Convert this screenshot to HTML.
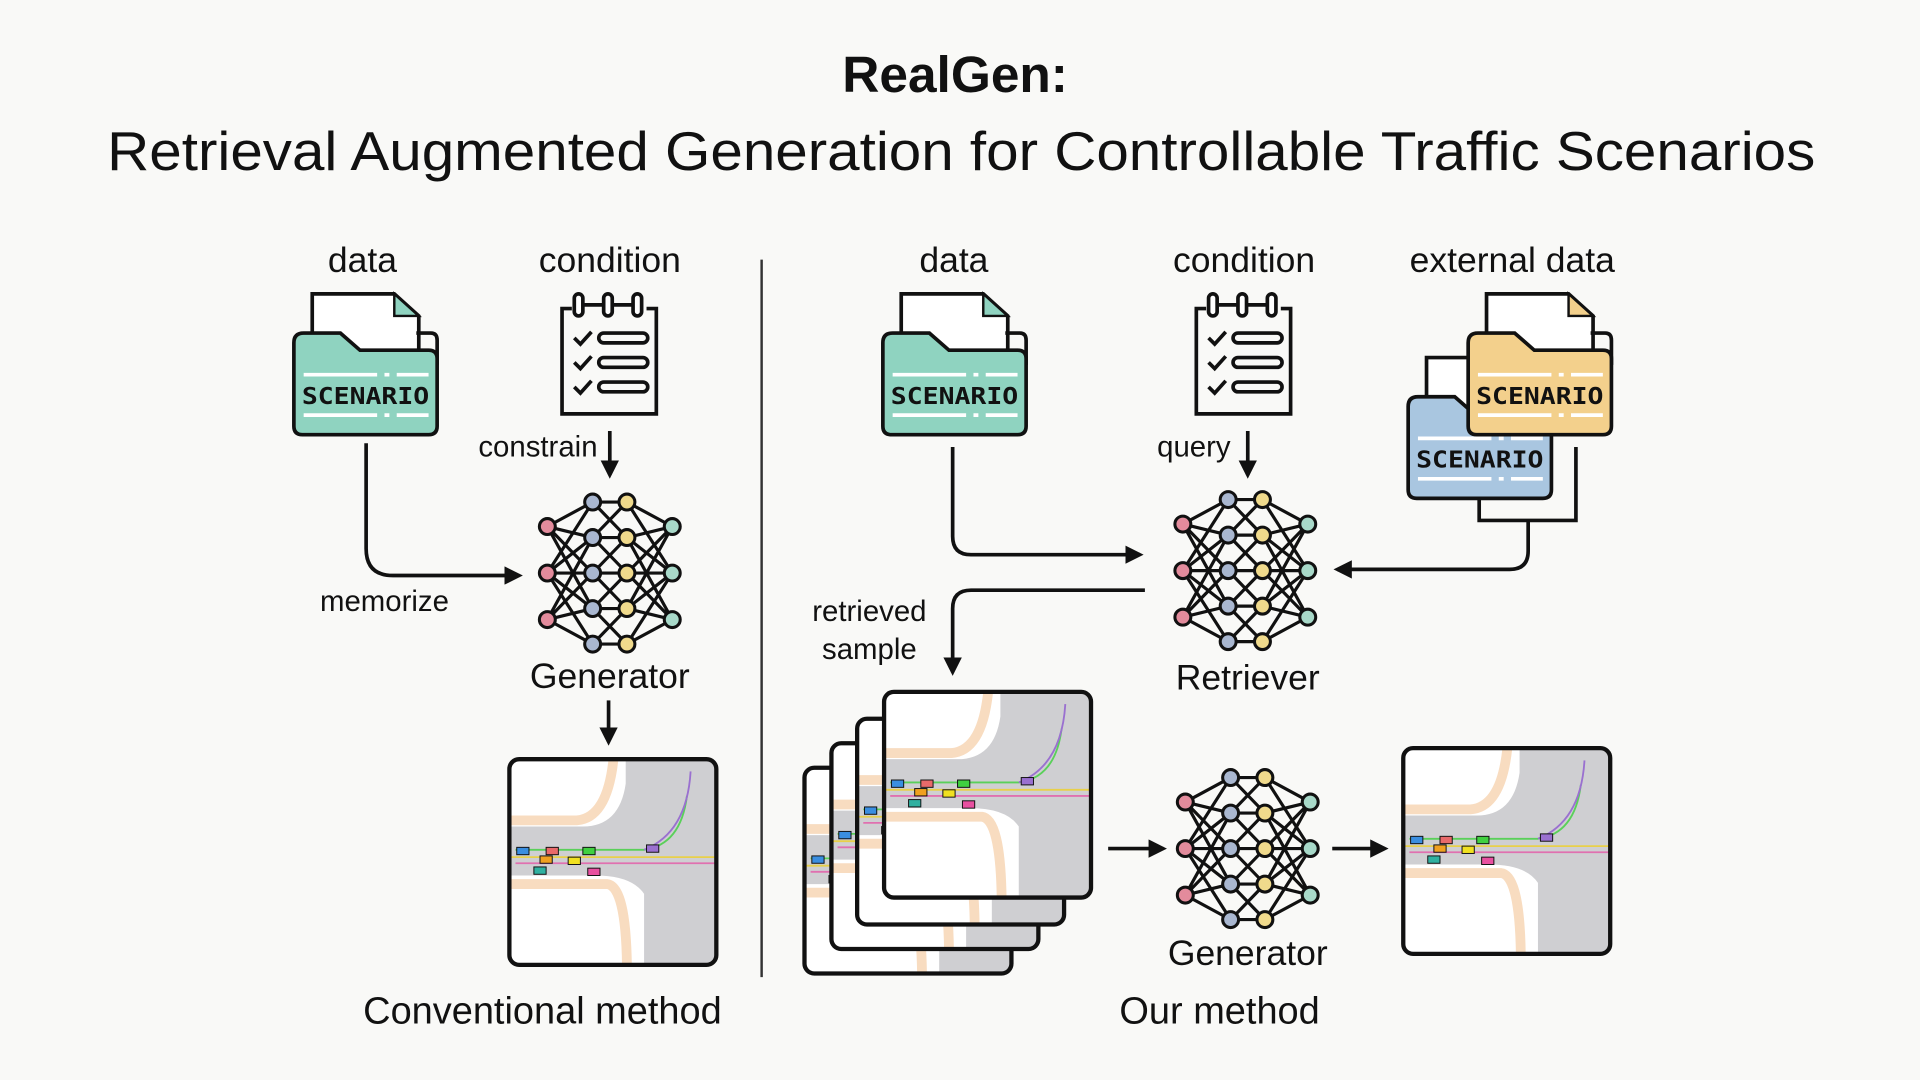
<!DOCTYPE html>
<html><head><meta charset="utf-8"><style>
html,body{margin:0;padding:0;background:#f9f9f7;}
svg{display:block}
text{font-family:"Liberation Sans",sans-serif;fill:#111}
.sc{font-family:"DejaVu Sans Mono","Liberation Mono",monospace;font-weight:bold;font-size:19px;fill:#111}
</style></head><body>
<svg width="1920" height="1080" viewBox="0 0 1568 882" xmlns="http://www.w3.org/2000/svg">
<defs>
<marker id="ah" viewBox="0 0 10 10" refX="8" refY="5" markerWidth="5" markerHeight="5" orient="auto"><path d="M0 0L10 5L0 10Z" fill="#111"/></marker>
<g id="folder">
  <path d="M15 50V2H82L102 20V50" fill="#fff" stroke="#111" stroke-width="3"/>
  <path d="M82 2V20H102Z" fill="CUR" stroke="#111" stroke-width="2"/>
  <path d="M100 34H112Q117 34 117 40V60" fill="none" stroke="#111" stroke-width="3"/>
  <path d="M0 42Q0 34 8 34H38L54 48H110Q117 48 117 55V110Q117 117 110 117H7Q0 117 0 110Z" fill="inherit" stroke="#111" stroke-width="3"/>
  <path d="M8 68H110M8 101H110" stroke="#fff" stroke-width="3" stroke-dasharray="60 6 4 6"/>
  <text class="sc" x="58.5" y="92" text-anchor="middle" textLength="104" lengthAdjust="spacingAndGlyphs">SCENARIO</text>
</g>
<g id="note" fill="none" stroke="#111" stroke-width="3">
  <path d="M12 14H4V100H81V14H73"/>
  <rect x="14" y="2" width="7" height="18" rx="3.5" fill="#fff"/>
  <rect x="38" y="2" width="7" height="18" rx="3.5" fill="#fff"/>
  <rect x="62" y="2" width="7" height="18" rx="3.5" fill="#fff"/>
  <path d="M21 11H38M45 11H62"/>
  <path d="M14 38l5 5 9-10M14 58l5 5 9-10M14 78l5 5 9-10"/>
  <rect x="34" y="34" width="40" height="8" rx="4"/>
  <rect x="34" y="54" width="40" height="8" rx="4"/>
  <rect x="34" y="74" width="40" height="8" rx="4"/>
</g>
<g id="net">
  <g stroke="#111" stroke-width="2.6">
    <path d="M-51-38L-14-58M-51-38L-14-29M-51-38L-14 0M-51-38L-14 29M-51 0L-14-58M-51 0L-14-29M-51 0L-14 0M-51 0L-14 29M-51 0L-14 58M-51 38L-14-29M-51 38L-14 0M-51 38L-14 29M-51 38L-14 58"/>
    <path d="M51-38L14-58M51-38L14-29M51-38L14 0M51-38L14 29M51 0L14-58M51 0L14-29M51 0L14 0M51 0L14 29M51 0L14 58M51 38L14-29M51 38L14 0M51 38L14 29M51 38L14 58"/>
    <path d="M-14-58L14-58M-14-58L14-29M-14-29L14-58M-14-29L14-29M-14-29L14 0M-14 0L14-29M-14 0L14 0M-14 0L14 29M-14 29L14 0M-14 29L14 29M-14 29L14 58M-14 58L14 29M-14 58L14 58"/>
  </g>
  <g stroke="#111" stroke-width="2.5">
    <g fill="#e38b9c"><circle cx="-51" cy="-38" r="6.5"/><circle cx="-51" cy="0" r="6.5"/><circle cx="-51" cy="38" r="6.5"/></g>
    <g fill="#a9b7d0"><circle cx="-14" cy="-58" r="6.5"/><circle cx="-14" cy="-29" r="6.5"/><circle cx="-14" cy="0" r="6.5"/><circle cx="-14" cy="29" r="6.5"/><circle cx="-14" cy="58" r="6.5"/></g>
    <g fill="#f0da8c"><circle cx="14" cy="-58" r="6.5"/><circle cx="14" cy="-29" r="6.5"/><circle cx="14" cy="0" r="6.5"/><circle cx="14" cy="29" r="6.5"/><circle cx="14" cy="58" r="6.5"/></g>
    <g fill="#a8d9c9"><circle cx="51" cy="-38" r="6.5"/><circle cx="51" cy="0" r="6.5"/><circle cx="51" cy="38" r="6.5"/></g>
  </g>
</g>
<clipPath id="mc"><rect x="0" y="0" width="169" height="168" rx="8"/></clipPath>
<g id="map">
  <rect x="0" y="0" width="169" height="168" rx="8" fill="#fff"/>
  <g clip-path="url(#mc)">
    <path d="M0 55H60Q90 55 95 20V0H169V168H110V110Q100 95 70 95H0Z" fill="#cfcfd2"/>
    <path d="M0 50H55Q80 48 85 0" fill="none" stroke="#f8dcc0" stroke-width="8"/>
    <path d="M0 102H80Q95 104 96 168" fill="none" stroke="#f8dcc0" stroke-width="8"/>
    <path d="M0 80H169" stroke="#e8d04a" stroke-width="1.5"/>
    <path d="M5 85H169" stroke="#e070b0" stroke-width="1.5"/>
    <path d="M5 74H110Q140 70 145 30" fill="none" stroke="#5ad05a" stroke-width="1.5"/>
    <path d="M110 74Q145 60 148 10" fill="none" stroke="#9a70d0" stroke-width="1.5"/>
    <g stroke="#111" stroke-width="0.8">
      <rect x="6" y="72" width="10" height="6" fill="#3a8ee0"/><rect x="30" y="72" width="10" height="6" fill="#e86a6a"/><rect x="60" y="72" width="10" height="6" fill="#40d040"/>
      <rect x="25" y="79" width="10" height="6" fill="#f0a020"/><rect x="48" y="80" width="10" height="6" fill="#f0e020"/>
      <rect x="20" y="88" width="10" height="6" fill="#30b0a0"/><rect x="64" y="89" width="10" height="6" fill="#e850a0"/>
      <rect x="112" y="70" width="10" height="6" fill="#9a70d0"/>
    </g>
  </g>
  <rect x="0" y="0" width="169" height="168" rx="8" fill="none" stroke="#111" stroke-width="3.5"/>
</g>
</defs>

<text x="780" y="75" text-anchor="middle" font-size="42" font-weight="bold">RealGen:</text>
<text x="785" y="139" text-anchor="middle" font-size="45" textLength="1395" lengthAdjust="spacingAndGlyphs">Retrieval Augmented Generation for Controllable Traffic Scenarios</text>

<line x1="622" y1="212" x2="622" y2="798" stroke="#333" stroke-width="2"/>

<!-- left -->
<g font-size="29">
<text x="296" y="222" text-anchor="middle">data</text>
<text x="498" y="222" text-anchor="middle">condition</text>
<text x="779" y="222" text-anchor="middle">data</text>
<text x="1016" y="222" text-anchor="middle">condition</text>
<text x="1235" y="222" text-anchor="middle">external data</text>
<text x="498" y="562" text-anchor="middle">Generator</text>
<text x="1019" y="563" text-anchor="middle">Retriever</text>
<text x="1019" y="788" text-anchor="middle">Generator</text>
</g>
<g font-size="31">
<text x="443" y="836" text-anchor="middle">Conventional method</text>
<text x="996" y="836" text-anchor="middle">Our method</text>
</g>
<g font-size="24">
<text x="488" y="373" text-anchor="end">constrain</text>
<text x="314" y="499" text-anchor="middle">memorize</text>
<text x="1005" y="373" text-anchor="end">query</text>
<text x="710" y="507" text-anchor="middle">retrieved</text>
<text x="710" y="538" text-anchor="middle">sample</text>
</g>

<use href="#folder" x="240" y="238" fill="#8fd3c0"/>
<use href="#note" x="455" y="238"/>
<use href="#net" x="498" y="468"/>
<g fill="none" stroke="#111" stroke-width="3">
<path d="M498 352V388" marker-end="url(#ah)"/>
<path d="M299 362V448Q299 470 321 470H424" marker-end="url(#ah)"/>
<path d="M497 572V606" marker-end="url(#ah)"/>
</g>
<use href="#map" x="416" y="620"/>

<!-- right -->
<use href="#folder" x="721" y="238" fill="#8fd3c0"/>
<use href="#note" x="973" y="238"/>
<use href="#folder" x="1150" y="290" fill="#a9c6e0"/>
<use href="#folder" x="1199" y="238" fill="#f3d08c"/>
<use href="#net" x="1017" y="466"/>
<use href="#net" x="1019" y="693"/>
<g fill="none" stroke="#111" stroke-width="3">
<path d="M1019 352V388" marker-end="url(#ah)"/>
<path d="M1287 365V425H1208V408"/>
<path d="M1248 425V450Q1248 465 1233 465H1092" marker-end="url(#ah)"/>
<path d="M778 365V438Q778 453 793 453H931" marker-end="url(#ah)"/>
<path d="M935 482H793Q778 482 778 497V549" marker-end="url(#ah)"/>
<path d="M905 693H950" marker-end="url(#ah)"/>
<path d="M1088 693H1131" marker-end="url(#ah)"/>
</g>
<use href="#map" x="657" y="627"/>
<use href="#map" x="679" y="607"/>
<use href="#map" x="700" y="587"/>
<use href="#map" x="722" y="565"/>
<use href="#map" x="1146" y="611"/>
</svg>
</body></html>
